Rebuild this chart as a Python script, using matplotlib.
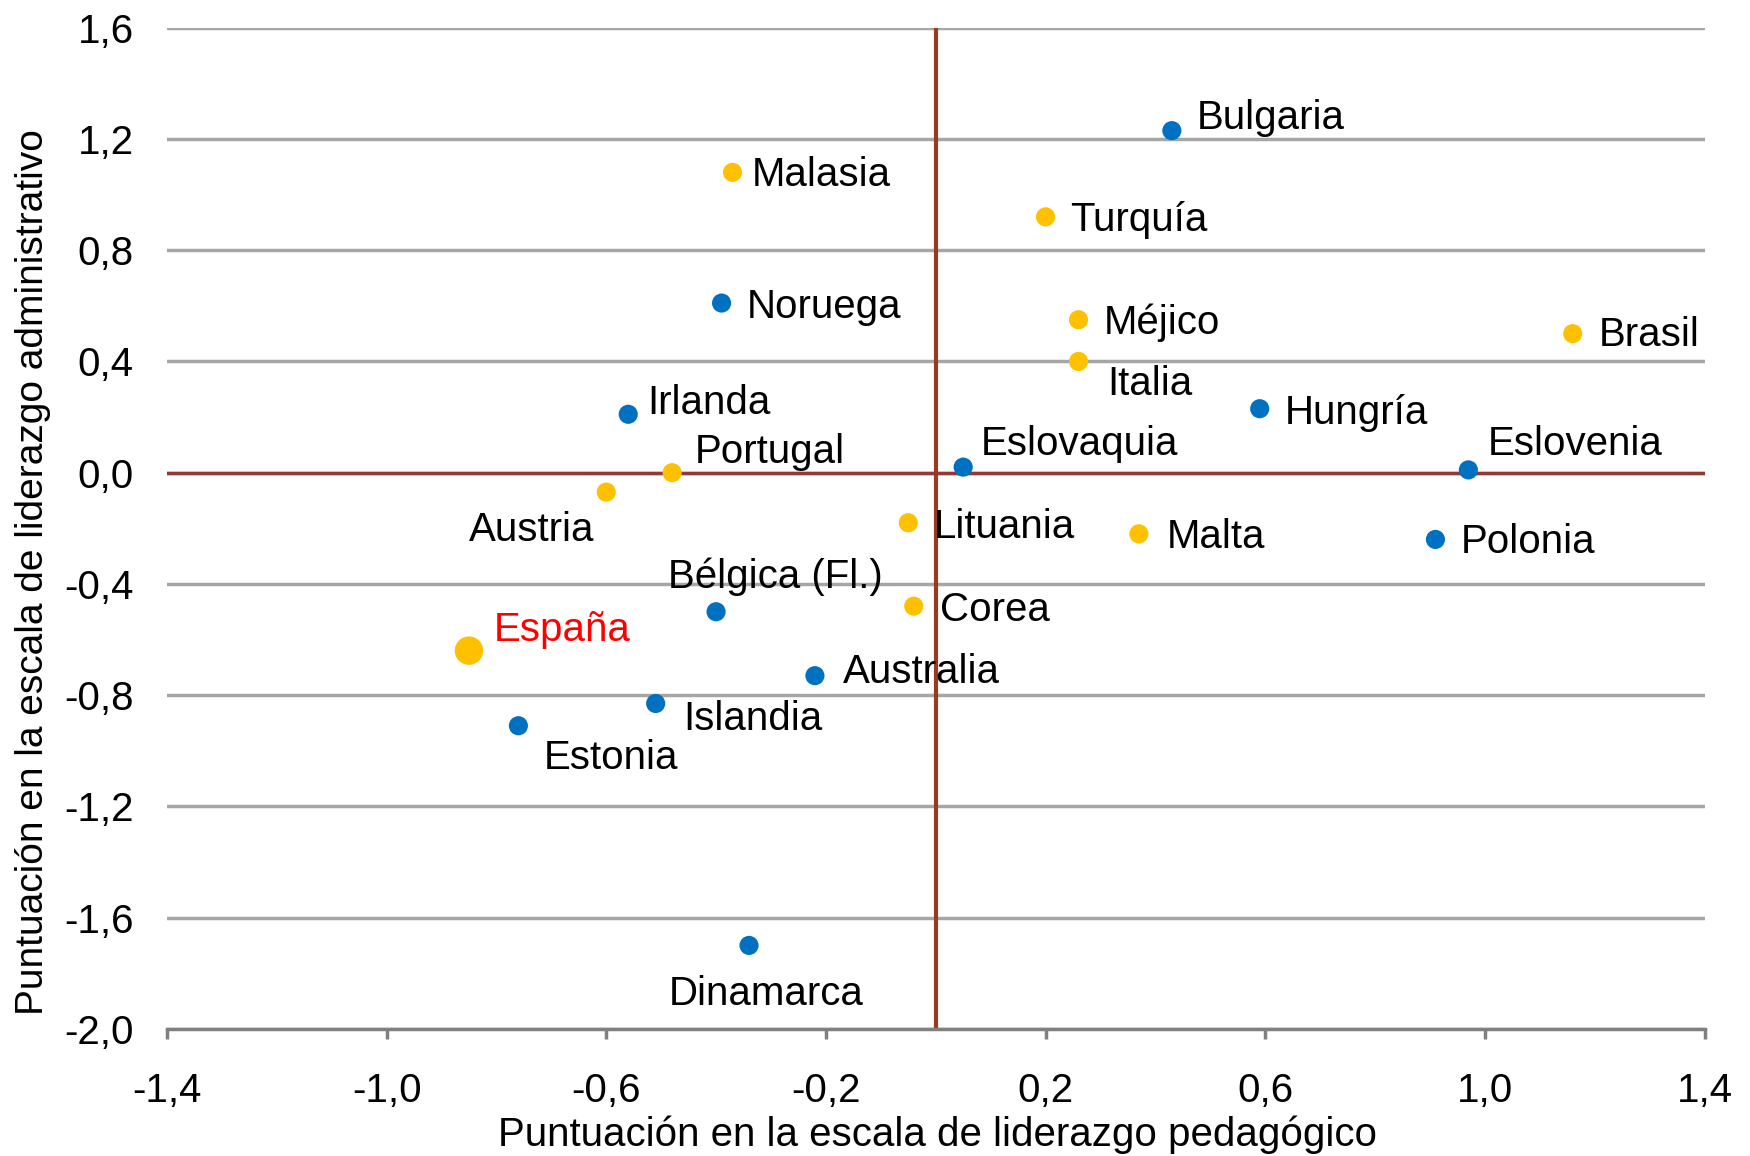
import matplotlib.pyplot as plt
from matplotlib.ticker import FuncFormatter

# Data
countries = ['Bulgaria', 'Malasia', 'Turquía', 'Noruega', 'Méjico', 'Brasil', 'Italia',
             'Irlanda', 'Hungría', 'Portugal', 'Eslovaquia', 'Eslovenia', 'Austria',
             'Lituania', 'Malta', 'Polonia', 'Bélgica (Fl.)', 'Corea', 'España',
             'Australia', 'Islandia', 'Estonia', 'Dinamarca']
pedagogico = [0.43, -0.37, 0.20, -0.39, 0.26, 1.16, 0.26,
              -0.56, 0.59, -0.48, 0.05, 0.97, -0.60,
              -0.05, 0.37, 0.91, -0.40, -0.04, -0.85,
              -0.22, -0.51, -0.76, -0.34]
administrativo = [1.23, 1.08, 0.92, 0.61, 0.55, 0.50, 0.40,
                  0.21, 0.23, 0.00, 0.02, 0.01, -0.07,
                  -0.18, -0.22, -0.24, -0.50, -0.48, -0.64,
                  -0.73, -0.83, -0.91, -1.70]
grupo = ['b', 'o', 'o', 'b', 'o', 'o', 'o',
         'b', 'b', 'o', 'b', 'b', 'o',
         'o', 'o', 'b', 'b', 'o', 'o',
         'b', 'b', 'b', 'b']
x_ticks = [-1.4, -1.0, -0.6, -0.2, 0.2, 0.6, 1.0, 1.4]
y_ticks = [-2.0, -1.6, -1.2, -0.8, -0.4, 0.0, 0.4, 0.8, 1.2, 1.6]

# label placement (offset in points from the dot, horizontal alignment)
offsets = {
    'Bulgaria': (18, 9, 'left'), 'Malasia': (14, -2, 'left'), 'Turquía': (18, -2, 'left'),
    'Noruega': (18, -3, 'left'), 'Méjico': (18, -2, 'left'), 'Brasil': (19, -1, 'left'),
    'Italia': (21, -16, 'left'), 'Irlanda': (14, 8, 'left'), 'Hungría': (18, -3, 'left'),
    'Portugal': (16, 15, 'left'), 'Eslovaquia': (13, 17, 'left'), 'Eslovenia': (14, 19, 'left'),
    'Austria': (-54, -27, 'center'), 'Lituania': (18, -3, 'left'), 'Malta': (20, -2, 'left'),
    'Polonia': (18, -2, 'left'), 'Bélgica (Fl.)': (43, 25, 'center'), 'Corea': (19, -3, 'left'),
    'España': (18, 15, 'left'), 'Australia': (20, 3, 'left'), 'Islandia': (20, -11, 'left'),
    'Estonia': (18, -23, 'left'), 'Dinamarca': (12, -35, 'center'),
}

colors = {'b': '#0070C0', 'o': '#FFC000'}

plt.rcParams['font.family'] = ['Liberation Sans', 'DejaVu Sans']

fig = plt.figure(figsize=(17.5, 11.56), dpi=100)
ax = fig.add_axes([0.0954, 0.110, 0.8786, 0.866])

ax.set_xlim(-1.4, 1.4)
ax.set_ylim(-2.0, 1.6)
ax.set_xticks(x_ticks)
ax.set_yticks(y_ticks)
fmt = FuncFormatter(lambda v, p: f'{v:.1f}'.replace('.', ','))
ax.xaxis.set_major_formatter(fmt)
ax.yaxis.set_major_formatter(fmt)

ax.set_axisbelow(True)
ax.grid(axis='y', color='#A6A6A6', linewidth=2.5)
for s in ['left', 'right', 'top']:
    ax.spines[s].set_visible(False)
ax.spines['bottom'].set_color('#808080')
ax.spines['bottom'].set_linewidth(2.5)
ax.tick_params(axis='x', colors='#808080', length=7, width=2.5, pad=24,
               labelsize=29, labelcolor='black')
ax.tick_params(axis='y', length=0, pad=24, labelsize=29, labelcolor='black')

# quadrant lines
ax.axvline(0, color='#9C3A1E', linewidth=3, zorder=2)
ax.axhline(0, color='#953735', linewidth=2.5, zorder=2)

for name, xv, yv, g in zip(countries, pedagogico, administrativo, grupo):
    big = name == 'España'
    ax.scatter(xv, yv, s=420 if big else 190, color=colors[g], zorder=3,
               edgecolors='none', clip_on=False)
    dx, dy, ha = offsets[name]
    ax.annotate(name, (xv, yv), xytext=(dx, dy), textcoords='offset points',
                ha=ha, va='center', fontsize=29,
                color='#FF0000' if big else 'black', zorder=4)

fig.text(0.536, 0.018, 'Puntuación en la escala de liderazgo pedagógico',
         ha='center', va='center', fontsize=29)
fig.text(0.019, 0.505, 'Puntuación en la escala de liderazgo administrativo',
         ha='center', va='center', rotation=90, fontsize=28)

fig.savefig('out.png', dpi=100)
